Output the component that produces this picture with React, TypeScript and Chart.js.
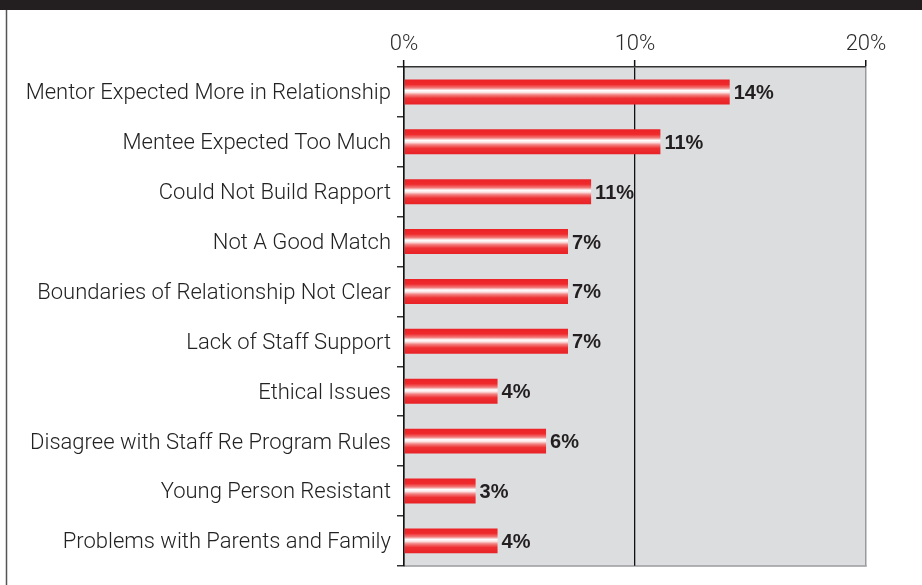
import React, { useEffect, useRef } from "react";
import { Chart, registerables } from "chart.js";

Chart.register(...registerables);

const categories = [
  "Mentor Expected More in Relationship",
  "Mentee Expected Too Much",
  "Could Not Build Rapport",
  "Not A Good Match",
  "Boundaries of Relationship Not Clear",
  "Lack of Staff Support",
  "Ethical Issues",
  "Disagree with Staff Re Program Rules",
  "Young Person Resistant",
  "Problems with Parents and Family",
];
const barValues = [14.1, 11.1, 8.1, 7.1, 7.1, 7.1, 4.05, 6.15, 3.1, 4.05];
const valueLabels = ["14%", "11%", "11%", "7%", "7%", "7%", "4%", "6%", "3%", "4%"];
const xMin = 0;
const xMax = 20;
const xStep = 10;

const FONT = "Roboto, 'Liberation Sans', Arial, sans-serif";
const BOLD_FONT = "'Liberation Sans', Arial, sans-serif";

export default function App() {
  const ref = useRef<HTMLCanvasElement>(null);

  useEffect(() => {
    document.body.style.margin = "0";
    const canvas = ref.current;
    if (!canvas) return;

    const framePlugin = {
      id: "frame",
      beforeDraw(chart: any) {
        const { ctx, chartArea: a, width, height } = chart;
        ctx.save();
        ctx.fillStyle = "#ffffff";
        ctx.fillRect(0, 0, width, height);
        ctx.fillStyle = "#231f20";
        ctx.fillRect(0, 0, width, 10);
        ctx.strokeStyle = "#555555";
        ctx.lineWidth = 1.5;
        ctx.beginPath();
        ctx.moveTo(6.5, 10);
        ctx.lineTo(6.5, height);
        ctx.stroke();
        ctx.fillStyle = "#dcdddf";
        ctx.fillRect(a.left, a.top, a.right - a.left, a.bottom - a.top);
        ctx.strokeStyle = "#9a9a9e";
        ctx.lineWidth = 1.5;
        ctx.beginPath();
        ctx.moveTo(a.left, a.bottom + 0.25);
        ctx.lineTo(a.right + 0.75, a.bottom + 0.25);
        ctx.stroke();
        ctx.restore();
      },
      afterDatasetsDraw(chart: any) {
        const { ctx } = chart;
        const meta = chart.getDatasetMeta(0);
        ctx.save();
        ctx.font = `bold 20px ${BOLD_FONT}`;
        ctx.fillStyle = "#231f20";
        ctx.textAlign = "left";
        ctx.textBaseline = "middle";
        meta.data.forEach((bar: any, i: number) => {
          ctx.fillText(valueLabels[i], bar.x + 4, bar.y + 1.5);
        });
        ctx.restore();
      },
    };

    const barFill = (c: any) => {
      const chart = c.chart;
      const area = chart.chartArea;
      const ys = chart.scales?.y;
      if (!area || !ys || c.dataIndex === undefined) return "#ee2a2a";
      const yc = ys.getPixelForValue(c.dataIndex);
      const h = ((area.bottom - area.top) / categories.length) * 0.5;
      const g = chart.ctx.createLinearGradient(0, yc - h / 2, 0, yc + h / 2);
      g.addColorStop(0, "#ec2227");
      g.addColorStop(0.2, "#ee2a2c");
      g.addColorStop(0.34, "#f27a7a");
      g.addColorStop(0.44, "#ffffff");
      g.addColorStop(0.52, "#fde4e4");
      g.addColorStop(0.62, "#f28080");
      g.addColorStop(0.76, "#ee2f31");
      g.addColorStop(1, "#e82226");
      return g;
    };

    const chart = new Chart(canvas, {
      type: "bar",
      data: {
        labels: categories,
        datasets: [
          {
            data: barValues,
            backgroundColor: barFill,
            borderWidth: 0,
            barPercentage: 0.5,
            categoryPercentage: 1,
          },
        ],
      },
      options: {
        indexAxis: "y",
        responsive: false,
        animation: false,
        layout: { padding: { left: 0, top: 0, right: 56, bottom: 19 } },
        plugins: {
          legend: { display: false },
          tooltip: { enabled: false },
          title: { display: false },
        },
        scales: {
          x: {
            position: "top",
            min: xMin,
            max: xMax,
            afterFit: (s: any) => {
              s.height = 67;
            },
            ticks: {
              stepSize: xStep,
              callback: (v: any) => `${v}%`,
              font: { family: FONT, size: 22, weight: "300" },
              color: "#2a2a2a",
              padding: 2,
              maxRotation: 0,
            },
            grid: {
              display: true,
              drawOnChartArea: true,
              drawTicks: true,
              tickLength: 7,
              tickColor: "#111111",
              tickWidth: 1.5,
              color: (c: any) => (c.tick && c.tick.value === xMax ? "#9a9a9e" : "#111111"),
              lineWidth: (c: any) => (c.tick && c.tick.value === xMax ? 1.5 : 1.3),
            },
            border: { display: true, color: "#333333", width: 1.5 },
          },
          y: {
            afterFit: (s: any) => {
              s.width = 404;
            },
            ticks: {
              font: { family: FONT, size: 22, weight: "300" },
              color: "#222222",
              padding: 6,
              labelOffset: 2,
            },
            grid: {
              display: true,
              offset: true,
              drawOnChartArea: false,
              drawTicks: true,
              tickLength: 7,
              color: "#333333",
              lineWidth: 1.5,
            },
            border: { display: true, color: "#111111", width: 1.5 },
          },
        },
      },
      plugins: [framePlugin],
    });

    return () => chart.destroy();
  }, []);

  return (
    <div style={{ width: 922, height: 585 }}>
      <canvas ref={ref} width={922} height={585} style={{ display: "block", width: 922, height: 585 }} />
    </div>
  );
}
